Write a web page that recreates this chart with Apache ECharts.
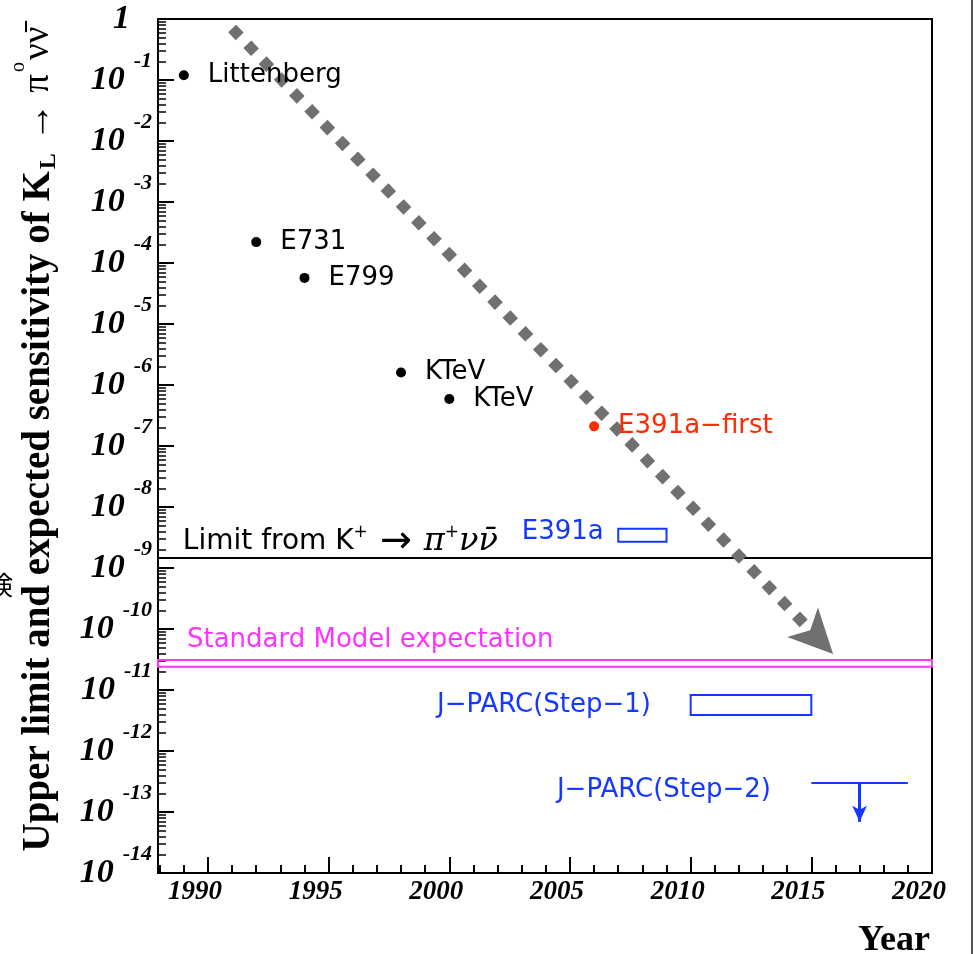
<!DOCTYPE html>
<html><head><meta charset="utf-8">
<script src="https://cdn.jsdelivr.net/npm/echarts@6/dist/echarts.min.js"></script>
<style>html,body{margin:0;padding:0;background:#fff}#c{width:974px;height:954px}</style>
</head><body><div id="c"></div>
<script>
// ---------- data ----------
const pointNames  = ['Littenberg', 'E731', 'E799', 'KTeV', 'KTeV'];
const pointYears  = [1989, 1992, 1994, 1998, 2000];
const pointLimits = [0.12, 2.2e-4, 5.7e-5, 1.6e-6, 5.9e-7];

const firstName  = 'E391a\u2212first';
const firstYear  = 2006;
const firstLimit = 2.1e-7;

const e391aBoxYears  = [2007, 2009];
const e391aBoxRange  = [2.7e-9, 4.4e-9];
const jparc1BoxYears = [2010, 2015];
const jparc1BoxRange = [3.9e-12, 8.3e-12];
const jparc2Years    = [2015, 2019];
const jparc2Value    = 3.0e-13;
const jparc2ArrowYear = 2017;
const jparc2ArrowEnd  = 6.9e-14;

const kplusLimit = 1.46e-9;
const smRange    = [2.4e-11, 3.1e-11];

// grey trend arrow: dashed shaft start, shaft end (arrow-head base), arrow tip
const trendStart = [1991.0, 0.7];
const trendShaftEnd = [2015.03, 8.9e-11];
const trendTip   = [2015.9, 3.9e-11];

const noteTexts  = ['E391a', 'Limit from K+', 'Standard Model expectation', 'J\u2212PARC(Step\u22121)', 'J\u2212PARC(Step\u22122)'];
const noteYears  = [2003.0, 1988.96, 1989.13, 1999.49, 2004.46];
const noteValues = [3.9e-9, 2.7e-9, 6.6e-11, 5.7e-12, 2.3e-13];
const noteKinds  = ['blue', 'black', 'magenta', 'blue', 'blue'];

const xTickYears = [1990, 1995, 2000, 2005, 2010, 2015, 2020];
const xMinorYears = [1988, 1989, 1990, 1991, 1992, 1993, 1994, 1995, 1996, 1997, 1998, 1999, 2000, 2001, 2002, 2003, 2004, 2005, 2006, 2007, 2008, 2009, 2010, 2011, 2012, 2013, 2014, 2015, 2016, 2017, 2018, 2019, 2020];
const yDecadeExps = [0, -1, -2, -3, -4, -5, -6, -7, -8, -9, -10, -11, -12, -13, -14];
const yMinorMantissas = [2, 3, 4, 5, 6, 7, 8, 9];

// ---------- styles ----------
const BLUE = '#1438ff', MAGENTA = '#ff33ff', RED = '#ff2a00', GREY = '#707070';
const colorOf = { blue: BLUE, black: '#000', magenta: MAGENTA };
const SERIF = 'Liberation Serif';
const SANS = 'DejaVu Sans';
const L = v => Math.log10(v);

const yMinorTicks = [];
yDecadeExps.forEach(e => { if (e < 0) yMinorMantissas.forEach(m => yMinorTicks.push(e + Math.log10(m))); });

const noteData = noteTexts.map((t, i) => {
  let fmt = '{a|' + t + '}';
  if (i === 1) fmt = '{b|Limit from K}{s|+}{arr| \u2192 }{m|\u03c0}{s|+}{m|\u03bd\u03bd\u0304}';
  return {
    value: [noteYears[i], L(noteValues[i])],
    label: { formatter: fmt, color: colorOf[noteKinds[i]] }
  };
});

const chart = echarts.init(document.getElementById('c'), null, { renderer: 'canvas' });
chart.setOption({
  backgroundColor: '#fff',
  animation: false,
  grid: { left: 158, right: 42, top: 19, bottom: 81, show: true, borderColor: '#000', borderWidth: 2, outerBoundsMode: 'none', containLabel: false },
  xAxis: [{
    type: 'value', min: 1987.93, max: 2020, position: 'bottom', offset: 0,
    axisLine: { show: true, onZero: false, lineStyle: { color: '#000', width: 2 } },
    axisTick: { show: true, inside: true, length: 16, customValues: xTickYears, lineStyle: { color: '#000', width: 2 } },
    axisLabel: { customValues: xTickYears, formatter: v => String(v), margin: 6, color: '#000', padding: [0, 26, 0, 0],
      fontFamily: SERIF, fontWeight: 'bold', fontStyle: 'italic', fontSize: 27 },
    splitLine: { show: false },
    name: 'Year', nameLocation: 'end', nameGap: -2,
    nameTextStyle: { fontFamily: SERIF, fontWeight: 'bold', fontSize: 36, color: '#000', align: 'right', verticalAlign: 'top', padding: [50, 0, 0, 0] }
  }, {
    type: 'value', min: 1987.93, max: 2020, position: 'bottom', offset: 0,
    axisLine: { show: false, onZero: false },
    axisTick: { show: true, inside: true, length: 8, customValues: xMinorYears, lineStyle: { color: '#000', width: 2 } },
    axisLabel: { show: false }, splitLine: { show: false }
  }],
  yAxis: [{
    type: 'value', min: -14, max: 0, interval: 1, position: 'left', offset: 0,
    axisLine: { show: true, onZero: false, lineStyle: { color: '#000', width: 2 } },
    axisTick: { show: true, inside: true, length: 16, lineStyle: { color: '#000', width: 2 } },
    axisLabel: {
      margin: 6, showMinLabel: true, showMaxLabel: true, hideOverlap: false,
      formatter: v => v === 0 ? '{one|1}' : '{b|10}{e|' + v + '}',
      rich: {
        b:   { fontFamily: SERIF, fontWeight: 'bold', fontStyle: 'italic', fontSize: 34, lineHeight: 30, color: '#000' },
        e:   { fontFamily: SERIF, fontWeight: 'bold', fontStyle: 'italic', fontSize: 22, lineHeight: 18, padding: [0, 0, 38, 9], color: '#000' },
        one: { fontFamily: SERIF, fontWeight: 'bold', fontStyle: 'italic', fontSize: 34, lineHeight: 30, padding: [0, 22, 0, 0], color: '#000' }
      }
    },
    splitLine: { show: false },
    name: '{t|Upper limit and expected sensitivity of K}{sub|L}{t| \u2192 }{pi|\u03c0}{sup|o}{pi|\u03bd\u03bd\u0304}',
    nameLocation: 'middle', nameGap: 88, nameRotate: 90,
    nameTextStyle: {
      padding: [0, 0, 0, 14],
      rich: {
        t:   { fontFamily: SERIF, fontWeight: 'bold', fontSize: 39, lineHeight: 40, color: '#000' },
        sub: { fontFamily: SERIF, fontWeight: 'bold', fontSize: 24, lineHeight: 24, padding: [20, 2, 0, 2], color: '#000' },
        pi:  { fontFamily: SERIF, fontSize: 37, lineHeight: 40, color: '#000' },
        sup: { fontFamily: SERIF, fontSize: 20, lineHeight: 20, padding: [0, 2, 40, 2], color: '#000' }
      }
    }
  }, {
    type: 'value', min: -14, max: 0, position: 'left', offset: 0,
    axisLine: { show: false, onZero: false },
    axisTick: { show: true, inside: true, length: 8, customValues: yMinorTicks, lineStyle: { color: '#000', width: 1.5 } },
    axisLabel: { show: false }, splitLine: { show: false }
  }],
  series: [
    { // Standard Model band, K+ limit, boxes
      type: 'scatter', name: 'frames', data: [], silent: true,
      markArea: {
        silent: true, label: { show: false },
        data: [
          [{ yAxis: L(smRange[1]), itemStyle: { color: 'rgba(0,0,0,0)', borderColor: MAGENTA, borderWidth: 2 } }, { yAxis: L(smRange[0]) }],
          [{ coord: [e391aBoxYears[0], L(e391aBoxRange[1])], itemStyle: { color: 'rgba(0,0,0,0)', borderColor: BLUE, borderWidth: 2 } }, { coord: [e391aBoxYears[1], L(e391aBoxRange[0])] }],
          [{ coord: [jparc1BoxYears[0], L(jparc1BoxRange[1])], itemStyle: { color: 'rgba(0,0,0,0)', borderColor: BLUE, borderWidth: 2 } }, { coord: [jparc1BoxYears[1], L(jparc1BoxRange[0])] }]
        ]
      },
      markLine: {
        silent: true, symbol: ['none', 'none'], label: { show: false },
        data: [
          { yAxis: L(kplusLimit), lineStyle: { color: '#000', width: 2, type: 'solid' } },
          [{ coord: [jparc2Years[0], L(jparc2Value)], lineStyle: { color: BLUE, width: 2, type: 'solid' } }, { coord: [jparc2Years[1], L(jparc2Value)] }]
        ]
      }
    },
    { // J-PARC step-2 down arrow
      type: 'scatter', name: 'arrow2', data: [], silent: true,
      markLine: {
        silent: true, symbol: ['none', 'arrow'], symbolSize: [11, 16], label: { show: false },
        lineStyle: { color: BLUE, width: 3, type: 'solid' },
        data: [[{ coord: [jparc2ArrowYear, L(jparc2Value)] }, { coord: [jparc2ArrowYear, L(jparc2ArrowEnd)] }]]
      }
    },
    { // grey trend: dashed shaft
      type: 'scatter', name: 'trend', data: [], silent: true, z: 1,
      markLine: {
        silent: true, symbol: ['none', 'none'], label: { show: false },
        lineStyle: { color: GREY, width: 11, type: [11, 11], cap: 'butt' },
        data: [[{ coord: [trendStart[0], L(trendStart[1])] }, { coord: [trendShaftEnd[0], L(trendShaftEnd[1])] }]]
      }
    },
    { // grey trend: arrow head
      type: 'scatter', name: 'trendHead', data: [], silent: true, z: 1,
      markLine: {
        silent: true, symbol: ['none', 'arrow'], symbolSize: [32, 44], label: { show: false },
        lineStyle: { color: GREY, width: 0.5, type: 'solid' },
        data: [[{ coord: [trendShaftEnd[0], L(trendShaftEnd[1])] }, { coord: [trendTip[0], L(trendTip[1])] }]]
      }
    },
    { // measured limits
      type: 'scatter', name: 'limits', symbol: 'circle', symbolSize: 10, z: 5,
      itemStyle: { color: '#000', opacity: 1 },
      data: pointYears.map((y, i) => ({ value: [y, L(pointLimits[i])], name: pointNames[i] })),
      label: { show: true, position: 'right', distance: 19, formatter: p => p.name, color: '#000', fontFamily: SANS, fontSize: 26 }
    },
    { // E391a first result
      type: 'scatter', name: 'first', symbol: 'circle', symbolSize: 10, z: 5,
      itemStyle: { color: RED, opacity: 1 },
      data: [{ value: [firstYear, L(firstLimit)], name: firstName }],
      label: { show: true, position: 'right', distance: 19, formatter: p => p.name, color: RED, fontFamily: SANS, fontSize: 26 }
    },
    { // text notes
      type: 'scatter', name: 'notes', symbolSize: 0, z: 6, silent: true,
      itemStyle: { opacity: 1 },
      data: noteData,
      label: {
        show: true, position: 'right', distance: 0, fontFamily: SANS, fontSize: 26,
        rich: {
          a:   { fontFamily: SANS, fontSize: 26 },
          b:   { fontFamily: SANS, fontSize: 28 },
          s:   { fontFamily: SANS, fontSize: 17, lineHeight: 17, padding: [0, 0, 18, 0] },
          arr: { fontFamily: SANS, fontSize: 38 },
          m:   { fontFamily: 'DejaVu Serif', fontStyle: 'italic', fontSize: 32 }
        }
      }
    }
  ],
  graphic: [
    { type: 'rect', left: 971, top: 0, shape: { width: 2, height: 954 }, style: { fill: '#555' }, silent: true },
    { type: 'text', left: -13, top: 572, style: { text: '\u691c', font: '26px "Noto Sans CJK JP"', fill: '#000' }, silent: true }
  ]
});
</script></body></html>
